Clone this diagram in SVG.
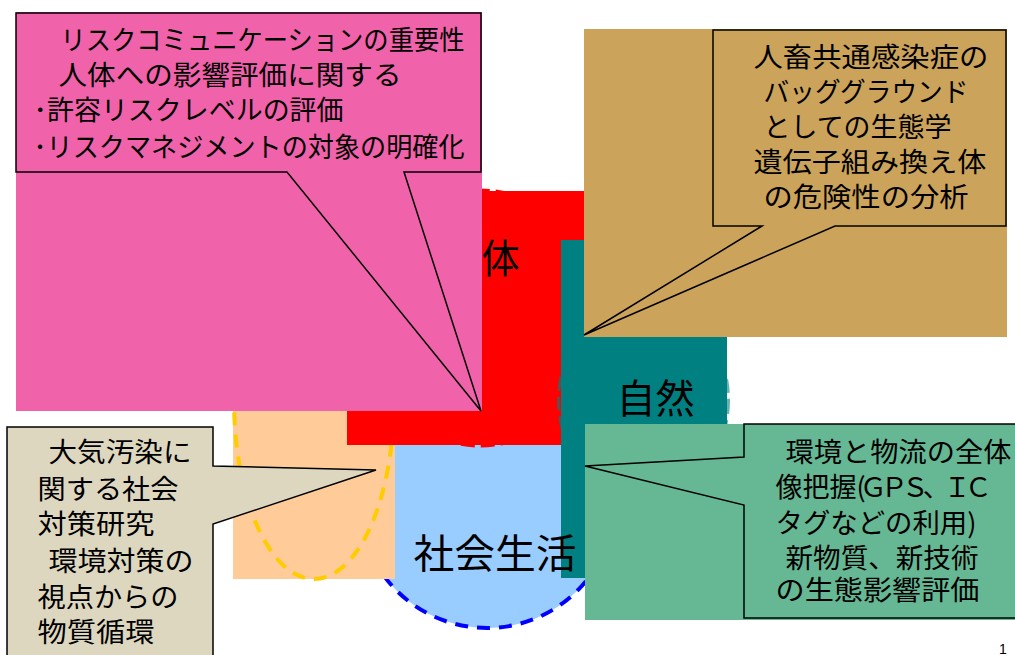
<svg xmlns="http://www.w3.org/2000/svg" width="1015" height="655" viewBox="0 0 1015 655">
<style>
.t{font-family:"Noto Sans CJK JP","Noto Sans CJK SC",sans-serif;font-size:27px;fill:#000}
.big{font-family:"Noto Sans CJK JP","Noto Sans CJK SC",sans-serif;font-size:40px;fill:#000}
.co{stroke:#000;stroke-width:1.5;stroke-linejoin:miter}
</style>
<rect width="1015" height="655" fill="#fff"/>
<g id="social">
<circle cx="487" cy="500" r="128" fill="#99CCFF" stroke="#0000FF" stroke-width="4" stroke-dasharray="13 9"/>
</g>
<g id="environment">
<rect x="233" y="300" width="162" height="279" fill="#FFCC99"/>
<ellipse cx="314" cy="400" rx="80" ry="179" fill="none" stroke="#FFCC00" stroke-width="4" stroke-dasharray="13 9"/>
</g>
<g id="human">
<rect x="347" y="191" width="237" height="254" fill="#FF0000"/>
<ellipse cx="480" cy="318" rx="120" ry="128" fill="none" stroke="#FF0000" stroke-width="3" stroke-dasharray="14 6"/>
</g>
<g id="nature">
<rect x="561" y="240" width="166" height="338" fill="#008080"/>
<ellipse cx="643.5" cy="400" rx="85" ry="100" fill="none" stroke="#008080" stroke-opacity="0.6" stroke-width="3" stroke-dasharray="14 6"/>
</g>
<g id="labels">
<text class="big" x="481.5" y="273" textLength="38" lengthAdjust="spacingAndGlyphs">体</text>
<text class="big" x="616.5" y="413" textLength="78" lengthAdjust="spacingAndGlyphs">自然</text>
<text class="big" x="413.5" y="568" textLength="163" lengthAdjust="spacingAndGlyphs">社会生活</text>
</g>
<g id="connectors"></g>
<g id="callout-human">
<rect x="16" y="12" width="466" height="399" fill="#F062AA"/>
<path class="co" d="M16,13 H481 V172 H404 L481,411 L287,172 H16 Z" fill="#F062AA"/>
<text class="t" x="60.5" y="50" textLength="404" lengthAdjust="spacingAndGlyphs">リスクコミュニケーションの重要性</text>
<text class="t" x="58.5" y="85" textLength="343" lengthAdjust="spacingAndGlyphs">人体への影響評価に関する</text>
<text class="t" x="33.5" y="120" textLength="310" lengthAdjust="spacingAndGlyphs">･許容リスクレベルの評価</text>
<text class="t" x="33.5" y="157" textLength="431" lengthAdjust="spacingAndGlyphs">･リスクマネジメントの対象の明確化</text>
</g>
<g id="callout-nature">
<rect x="584" y="29" width="423" height="308" fill="#CBA35B"/>
<path class="co" d="M713,30 H1006 V226 H835 L584,335 L762,226 H713 Z" fill="#CBA35B"/>
<text class="t" x="753.5" y="67" textLength="235" lengthAdjust="spacingAndGlyphs">人畜共通感染症の</text>
<text class="t" x="763.5" y="102" textLength="205" lengthAdjust="spacingAndGlyphs">バッググラウンド</text>
<text class="t" x="763.5" y="137" textLength="188" lengthAdjust="spacingAndGlyphs">としての生態学</text>
<text class="t" x="753.5" y="172" textLength="233" lengthAdjust="spacingAndGlyphs">遺伝子組み換え体</text>
<text class="t" x="763.5" y="207" textLength="205" lengthAdjust="spacingAndGlyphs">の危険性の分析</text>
</g>
<g id="callout-social">
<rect x="585" y="424" width="430" height="196" fill="#66B894"/>
<path class="co" d="M744,424 H1020 V618 H744 V505 L585,466 L744,457 Z" fill="#66B894"/>
<text class="t" x="785.5" y="462" textLength="226" lengthAdjust="spacingAndGlyphs">環境と物流の全体</text>
<text class="t" x="775.5" y="497">像把握<tspan letter-spacing="-6">(ＧＰＳ、ＩＣ</tspan></text>
<text class="t" x="775.5" y="533" textLength="201" lengthAdjust="spacingAndGlyphs">タグなどの利用)</text>
<text class="t" x="785.5" y="568" textLength="193" lengthAdjust="spacingAndGlyphs">新物質、新技術</text>
<text class="t" x="775.5" y="600" textLength="204" lengthAdjust="spacingAndGlyphs">の生態影響評価</text>
</g>
<g id="callout-environment">
<path class="co" d="M7,427 H213 V466 L376,470 L213,524 V665 H7 Z" fill="#DED7C0"/>
<text class="t" x="48.5" y="462" textLength="143" lengthAdjust="spacingAndGlyphs">大気汚染に</text>
<text class="t" x="37.5" y="499" textLength="141" lengthAdjust="spacingAndGlyphs">関する社会</text>
<text class="t" x="37.5" y="534" textLength="117" lengthAdjust="spacingAndGlyphs">対策研究</text>
<text class="t" x="48.5" y="571" textLength="145" lengthAdjust="spacingAndGlyphs">環境対策の</text>
<text class="t" x="37.5" y="607" textLength="141" lengthAdjust="spacingAndGlyphs">視点からの</text>
<text class="t" x="37.5" y="642" textLength="117" lengthAdjust="spacingAndGlyphs">物質循環</text>
</g>
<g id="page-number">
<text x="999" y="654" font-family="Liberation Sans, sans-serif" font-size="14" fill="#000">1</text>
</g>
</svg>
